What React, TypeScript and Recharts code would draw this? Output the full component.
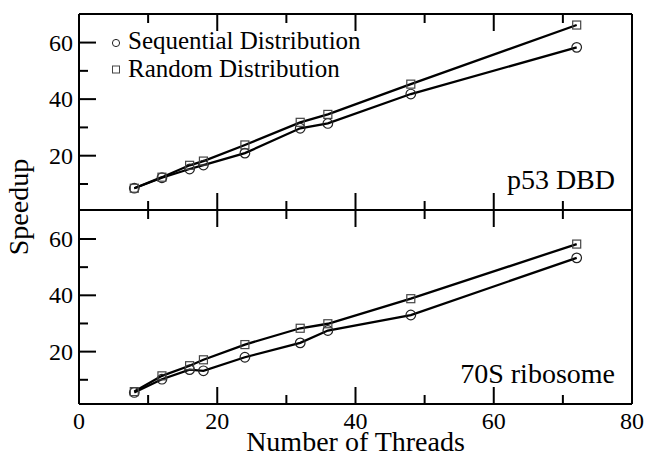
import React from 'react';
import { LineChart, Line, XAxis, YAxis, Legend } from 'recharts';

// ---- data ----
const threads = [8, 12, 16, 18, 24, 32, 36, 48, 72];
const p53Sequential = [8.5, 12.2, 15.3, 16.7, 20.9, 29.7, 31.4, 41.8, 58.3];
const p53Random = [8.5, 12.4, 16.6, 18.1, 23.8, 31.8, 34.6, 45.3, 66.2];
const riboSequential = [5.5, 10.2, 13.6, 13.2, 18.0, 23.1, 27.5, 33.0, 53.3];
const riboRandom = [5.8, 11.4, 15.0, 17.1, 22.5, 28.3, 29.9, 38.8, 58.2];
const xTicks = [0, 10, 20, 30, 40, 50, 60, 70, 80];
const yTicks = [10, 20, 30, 40, 50, 60];
const seriesNames = ['Sequential Distribution', 'Random Distribution'];
const panelNames = ['p53 DBD', '70S ribosome'];

// ---- layout ----
const FONT = 'Liberation Serif, Tinos, DejaVu Serif, Times New Roman, serif';
const W = 649;
const H = 456;
const PLOT_LEFT = 79;
const PLOT_RIGHT = 632;
const TOP = 14;
const MID = 210;
const BOTTOM = 404;

const p53Data = threads.map((t, i) => ({ threads: t, seq: p53Sequential[i], rand: p53Random[i] }));
const riboData = threads.map((t, i) => ({ threads: t, seq: riboSequential[i], rand: riboRandom[i] }));

function makeXTick(dir: number, showLabels: boolean) {
  return (props: any) => {
    const { x, y, payload } = props;
    const v = payload.value;
    const major = v % 20 === 0;
    const len = major ? 17 : 9;
    return (
      <g>
        {v > 0 && v < 80 && (
          <line x1={x} x2={x} y1={y} y2={y + dir * len} stroke="#000" strokeWidth={2} />
        )}
        {showLabels && major && (
          <text x={x} y={y + 24.5} textAnchor="middle" fontFamily={FONT} fontSize={24} fill="#000">
            {v}
          </text>
        )}
      </g>
    );
  };
}

function makeYTick(dir: number, showLabels: boolean) {
  return (props: any) => {
    const { x, y, payload } = props;
    const v = payload.value;
    const major = v % 20 === 0;
    const len = major ? 17 : 9;
    return (
      <g>
        <line x1={x} x2={x + dir * len} y1={y} y2={y} stroke="#000" strokeWidth={2} />
        {showLabels && major && (
          <text x={x - 6} y={y} dy="0.34em" textAnchor="end" fontFamily={FONT} fontSize={24} fill="#000">
            {v}
          </text>
        )}
      </g>
    );
  };
}

const CircleDot = (props: any) => {
  const { cx, cy, index } = props;
  if (cx == null || cy == null) return null;
  return <circle key={`c${index}`} cx={cx} cy={cy} r={4.8} fill="none" stroke="#222" strokeWidth={1.2} />;
};

const SquareDot = (props: any) => {
  const { cx, cy, index } = props;
  if (cx == null || cy == null) return null;
  return (
    <rect key={`s${index}`} x={cx - 4} y={cy - 4} width={8} height={8} fill="none" stroke="#444" strokeWidth={1.2} />
  );
};

const renderLegend = (props: any) => {
  const payload = [...(props.payload || [])].sort((a: any, b: any) =>
    (a.dataKey === 'seq' ? 0 : 1) - (b.dataKey === 'seq' ? 0 : 1)
  );
  return (
    <div style={{ fontFamily: FONT, fontSize: 25, color: '#000' }}>
      {payload.map((entry: any, i: number) => (
        <div key={i} style={{ height: 28, lineHeight: '28px', display: 'flex', alignItems: 'center', whiteSpace: 'nowrap' }}>
          <svg width={23} height={28} style={{ display: 'block' }}>
            {entry.dataKey === 'seq' ? (
              <circle cx={11} cy={16} r={3.6} fill="none" stroke="#222" strokeWidth={1} />
            ) : (
              <rect x={7.5} y={11} width={7} height={7} fill="none" stroke="#444" strokeWidth={1} />
            )}
          </svg>
          <span>{entry.value}</span>
        </div>
      ))}
    </div>
  );
};

const axisLine = { stroke: '#000', strokeWidth: 2 };

function Panel(props: { data: any[]; name: string; top: number; bottom: number; yDomain: [number, number]; isTop: boolean }) {
  const { data, name, top, bottom, yDomain, isTop } = props;
  return (
    <LineChart width={W} height={H} data={data} margin={{ top: 0, right: 0, bottom: 0, left: 0 }}>
      <XAxis
        xAxisId="top"
        orientation="top"
        dataKey="threads"
        type="number"
        domain={[0, 80]}
        ticks={xTicks}
        interval={0}
        height={top}
        tickSize={0}
        tickMargin={0}
        tickLine={false}
        axisLine={axisLine}
        tick={makeXTick(1, false)}
      />
      <XAxis
        xAxisId="bottom"
        orientation="bottom"
        dataKey="threads"
        type="number"
        domain={[0, 80]}
        ticks={xTicks}
        interval={0}
        height={H - bottom}
        tickSize={0}
        tickMargin={0}
        tickLine={false}
        axisLine={axisLine}
        tick={makeXTick(-1, !isTop)}
        label={
          isTop
            ? undefined
            : { value: 'Number of Threads', position: 'insideBottom', offset: 5, fontSize: 28, fontFamily: FONT, fill: '#000' }
        }
      />
      <YAxis
        yAxisId="left"
        orientation="left"
        type="number"
        domain={yDomain}
        ticks={yTicks}
        interval={0}
        width={PLOT_LEFT}
        tickSize={0}
        tickMargin={0}
        tickLine={false}
        axisLine={axisLine}
        tick={makeYTick(1, true)}
        label={
          isTop
            ? {
                content: () => (
                  <text
                    x={28}
                    y={(TOP + BOTTOM) / 2 - 2}
                    transform={`rotate(-90 28 ${(TOP + BOTTOM) / 2 - 2})`}
                    textAnchor="middle"
                    fontFamily={FONT}
                    fontSize={28}
                    fill="#000"
                  >
                    Speedup
                  </text>
                ),
              }
            : undefined
        }
      />
      <YAxis
        yAxisId="right"
        orientation="right"
        type="number"
        domain={yDomain}
        ticks={yTicks}
        interval={0}
        width={W - PLOT_RIGHT}
        tickSize={0}
        tickMargin={0}
        tickLine={false}
        axisLine={axisLine}
        tick={makeYTick(-1, false)}
        label={{
          content: (p: any) => {
            const vb = p.viewBox || {};
            return (
              <text
                x={vb.x - 17}
                y={vb.y + vb.height - 21}
                textAnchor="end"
                fontFamily={FONT}
                fontSize={28}
                fill="#000"
              >
                {name}
              </text>
            );
          },
        }}
      />
      {isTop && (
        <Legend
          layout="vertical"
          align="center"
          verticalAlign="middle"
          itemSorter={null as any}
          wrapperStyle={{ top: 27, left: 105, width: 320 }}
          content={renderLegend}
        />
      )}
      <Line
        xAxisId="bottom"
        yAxisId="left"
        type="linear"
        dataKey="seq"
        name={seriesNames[0]}
        stroke="#000"
        strokeWidth={2.3}
        dot={CircleDot}
        activeDot={false}
        isAnimationActive={false}
      />
      <Line
        xAxisId="bottom"
        yAxisId="left"
        type="linear"
        dataKey="rand"
        name={seriesNames[1]}
        stroke="#000"
        strokeWidth={2.3}
        dot={SquareDot}
        activeDot={false}
        isAnimationActive={false}
      />
    </LineChart>
  );
}

export default function App() {
  return (
    <div style={{ position: 'absolute', left: 0, top: 0, width: W, height: H, background: '#fff' }}>
      <div style={{ position: 'absolute', left: 0, top: 0 }}>
        <Panel data={p53Data} name={panelNames[0]} top={TOP} bottom={MID} yDomain={[0.8, 70.1]} isTop={true} />
      </div>
      <div style={{ position: 'absolute', left: 0, top: 0 }}>
        <Panel data={riboData} name={panelNames[1]} top={MID} bottom={BOTTOM} yDomain={[1.4, 70.3]} isTop={false} />
      </div>
    </div>
  );
}
